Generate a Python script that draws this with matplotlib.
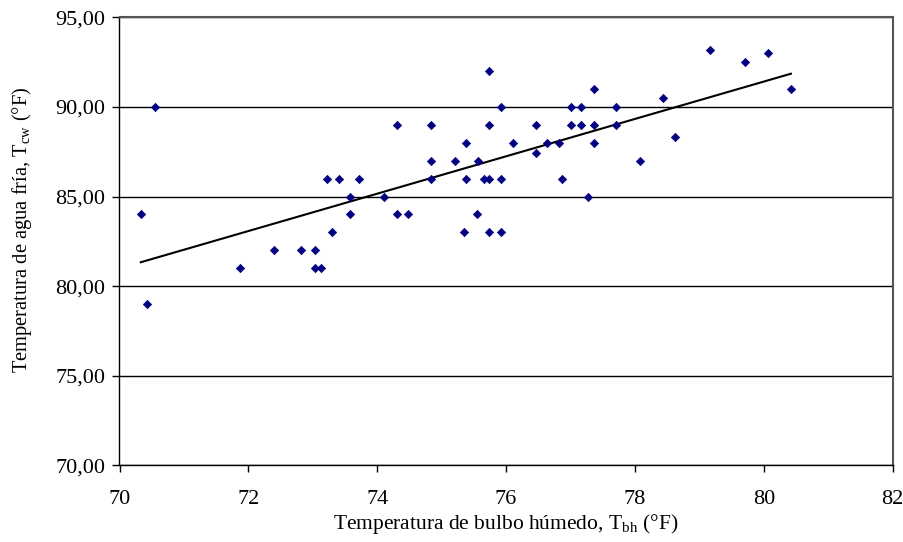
import numpy as np
import matplotlib
matplotlib.use("Agg")
import matplotlib.pyplot as plt
from matplotlib.ticker import FuncFormatter, MultipleLocator

# Wet-bulb temperature (°F)
t_bh = [70.33, 70.43, 70.55, 71.87, 72.40, 72.82, 73.04, 73.04, 73.13, 73.22,
        73.30, 73.40, 73.57, 73.57, 73.72, 74.11, 74.30, 74.30, 74.48, 74.84,
        74.84, 74.84, 75.20, 75.34, 75.38, 75.38, 75.55, 75.56, 75.65, 75.73,
        75.73, 75.73, 75.73, 75.92, 75.92, 75.92, 76.10, 76.46, 76.46, 76.64,
        76.82, 76.86, 77.00, 77.00, 77.17, 77.17, 77.27, 77.36, 77.36, 77.36,
        77.71, 77.71, 78.08, 78.43, 78.62, 79.17, 79.70, 80.06, 80.42]
# Cold water temperature (°F)
t_cw = [84.0, 79.0, 90.0, 81.0, 82.0, 82.0, 82.0, 81.0, 81.0, 86.0,
        83.0, 86.0, 85.0, 84.0, 86.0, 85.0, 89.0, 84.0, 84.0, 89.0,
        87.0, 86.0, 87.0, 83.0, 88.0, 86.0, 84.0, 87.0, 86.0, 92.0,
        89.0, 86.0, 83.0, 90.0, 86.0, 83.0, 88.0, 89.0, 87.4, 88.0,
        88.0, 86.0, 90.0, 89.0, 90.0, 89.0, 85.0, 91.0, 89.0, 88.0,
        90.0, 89.0, 87.0, 90.5, 88.3, 93.2, 92.5, 93.0, 91.0]

x = np.array(t_bh)
y = np.array(t_cw)
slope, intercept = np.polyfit(x, y, 1)

plt.rcParams['font.family'] = ['Liberation Serif', 'DejaVu Serif']

fig = plt.figure(figsize=(9.04, 5.42), dpi=100)
ax = fig.add_axes([119.5/904, (542-465.3)/542, (892.7-119.5)/904, (465.3-17.3)/542])

ax.set_xlim(70, 82)
ax.set_ylim(70, 95)
ax.xaxis.set_major_locator(MultipleLocator(2))
ax.yaxis.set_major_locator(MultipleLocator(5))
ax.yaxis.set_major_formatter(FuncFormatter(lambda v, p: f"{v:.2f}".replace('.', ',')))

ax.grid(axis='y', color='black', linewidth=1.0)
ax.set_axisbelow(True)

xs = np.array([x.min(), x.max()])
ax.plot(xs, slope * xs + intercept, color='black', linewidth=1.5, zorder=2)
ax.scatter(x, y, marker='D', s=18, color='#000080', edgecolors='#000080', linewidths=0.5, zorder=3)

for side in ['left', 'bottom']:
    ax.spines[side].set_color('black')
    ax.spines[side].set_linewidth(1.0)
for side in ['top', 'right']:
    ax.spines[side].set_color('#555555')
    ax.spines[side].set_linewidth(1.5)

ax.tick_params(axis='both', direction='out', length=5, width=1, colors='black', labelsize=16)
ax.tick_params(axis='x', pad=12.5)
ax.tick_params(axis='y', pad=5)

ax.set_xlabel(r"Temperatura de bulbo húmedo, T$_{\mathregular{bh}}$ (°F)", fontsize=15.5, labelpad=2.5)
ax.set_ylabel(r"Temperatura de agua fría, T$_{\mathregular{cw}}$ (°F)", fontsize=14.8)
ax.yaxis.set_label_coords(-0.110, 0.525)

fig.savefig("out.png", dpi=100)
